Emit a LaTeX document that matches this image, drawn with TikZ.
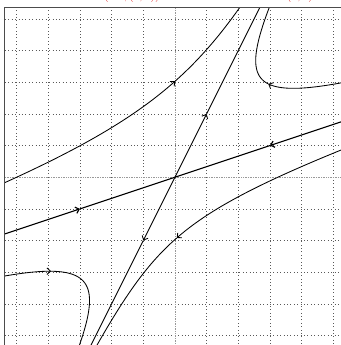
\documentclass[tikz,border=0pt]{standalone}
\usetikzlibrary{arrows.meta}
\begin{document}
\begin{tikzpicture}[x=31.67pt,y=31.67pt,
  traj/.style={line width=0.85pt, black},
  stab/.style={line width=1.15pt, black},
  tip/.style={-{Straight Barb[length=3.5pt,width=6.5pt]}},
  gridline/.style={black!65, line width=0.45pt, dash pattern=on 0.6pt off 2.8pt},
  axisline/.style={black!40, line width=0.6pt, dash pattern=on 0.8pt off 0.9pt},
  redlabel/.style={red!85!black, anchor=base, font=\fontsize{12}{14}\selectfont},
]
\useasboundingbox (-5.526,-5.30) rectangle (5.24,5.598);
% grid
\foreach \i in {-5,-4,-3,-2,-1,1,2,3,4,5} {
  \draw[gridline] (\i,-5.37) -- (\i,5.37);
  \draw[gridline] (-5.37,\i) -- (5.37,\i);
}
\draw[axisline] (0,-5.37) -- (0,5.37);
\draw[axisline] (-5.37,0) -- (5.37,0);
% named points
\coordinate (O) at (0,0);
\coordinate (U1) at (2.8,5.6);
\coordinate (U2) at (-2.8,-5.6);
\coordinate (Ua) at (1,2);
\coordinate (Ub) at (-1,-2);
\coordinate (S1) at (5.7,1.9);
\coordinate (S2) at (-5.7,-1.9);
\coordinate (Sa) at (3,1);
\coordinate (Sb) at (-3,-1);
\begin{scope}
\clip (-5.37,-5.6) rectangle (5.6,5.37);
% unstable line (outward arrows)
\draw[traj,tip] (O) -- (Ua);
\draw[traj] (Ua) -- (U1);
\draw[traj,tip] (O) -- (Ub);
\draw[traj] (Ub) -- (U2);
% stable line (inward arrows)
\draw[stab,tip] (S1) -- (Sa);
\draw[stab] (Sa) -- (O);
\draw[stab,tip] (S2) -- (Sb);
\draw[stab] (Sb) -- (O);
% curve A, K=-2
\draw[traj,tip] plot[domain=0.9:1.82,samples=70] ({\x-6/(\x*\x)},{2*\x-2/(\x*\x)});
\draw[traj] plot[domain=1.82:2.9,samples=70] ({\x-6/(\x*\x)},{2*\x-2/(\x*\x)});
% curve B, K=0.82
\draw[traj,tip] plot[domain=0.62:1.18,samples=90] ({\x+2.46/(\x*\x)},{2*\x+0.82/(\x*\x)});
\draw[traj] plot[domain=1.18:2.8,samples=90] ({\x+2.46/(\x*\x)},{2*\x+0.82/(\x*\x)});
% curve C, K=0.55 (a<0)
\draw[traj,tip] plot[domain=0.45:1.164,samples=90] ({-\x+1.65/(\x*\x)},{-2*\x+0.55/(\x*\x)});
\draw[traj] plot[domain=1.164:2.85,samples=90] ({-\x+1.65/(\x*\x)},{-2*\x+0.55/(\x*\x)});
% curve D, K=-0.97 (a<0)
\draw[traj,tip] plot[domain=0.68:1.0,samples=60] ({-\x-2.91/(\x*\x)},{-2*\x-0.97/(\x*\x)});
\draw[traj] plot[domain=1.0:2.75,samples=90] ({-\x-2.91/(\x*\x)},{-2*\x-0.97/(\x*\x)});
\end{scope}
% frame
\draw[black!70, line width=0.9pt] (-5.37,-5.37) rectangle (5.37,5.37);
% clipped red labels above the frame
\node[redlabel] (t1) at (-1.36,5.62) {$(-2,(3,1))$};
\node[redlabel] (t2) at (3.95,5.62) {$(1,2)$};
\end{tikzpicture}
\end{document}
